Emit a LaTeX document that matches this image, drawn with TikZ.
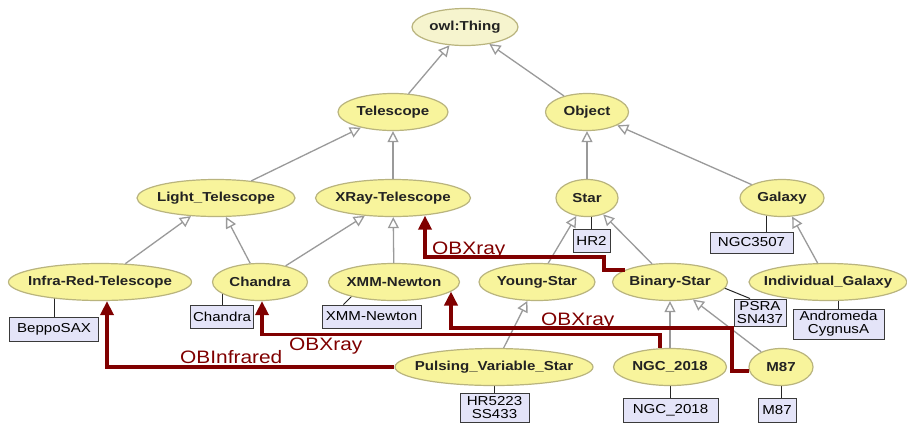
\documentclass[tikz,border=0pt]{standalone}
\usepackage{fontspec}
\usetikzlibrary{shapes.geometric, arrows.meta, calc, backgrounds}
\newfontfamily\clsfont[FakeStretch=1.16]{Liberation Sans}
\newfontfamily\boxfont[FakeStretch=1.16]{Liberation Sans}
\newfontfamily\relfont[FakeStretch=1.16]{Liberation Sans}
\definecolor{ellfill}{HTML}{F8F49C}
\definecolor{thingfill}{HTML}{F6F4CE}
\definecolor{ellborder}{HTML}{B9B47E}
\definecolor{clstext}{HTML}{222222}
\definecolor{boxfill}{HTML}{E4E4F8}
\definecolor{boxborder}{HTML}{3A3A3A}
\definecolor{subgray}{HTML}{9A9A9A}
\definecolor{relred}{HTML}{800000}
\tikzset{
  cls/.style={ellipse, draw=ellborder, fill=ellfill, line width=1.2pt, minimum height=37pt,
    inner xsep=-30pt, inner ysep=-4pt,
    font=\clsfont\bfseries\fontsize{13}{15}\selectfont, text=clstext},
  inst/.style={rectangle, draw=boxborder, fill=boxfill, line width=1pt, inner sep=0pt,
    font=\boxfont\fontsize{13}{13}\selectfont, align=center},
  sub/.style={draw=subgray, line width=1.3pt, -{Triangle[open, length=11pt, width=11pt, fill=white]}},
  rel/.style={draw=relred, line width=3.5pt, -{Triangle[length=14pt, width=13pt]}},
  rellabel/.style={text=relred, font=\relfont\fontsize{18}{20}\selectfont, inner sep=0pt, anchor=base west},
  link/.style={draw=black!85, line width=1pt}
}
\begin{document}
\begin{tikzpicture}[x=1pt, y=-1pt]
\useasboundingbox (0,0) rectangle (907,424);
% classes
\node[cls, minimum width=106pt, fill=thingfill] (thing) at (465,27) {owl:Thing};
\node[cls, minimum width=110pt] (tel) at (393,112) {Telescope};
\node[cls, minimum width=83pt] (obj) at (587,112) {Object};
\node[cls, minimum width=158pt] (light) at (216,198) {Light\_Telescope};
\node[cls, minimum width=155pt] (xray) at (393,198) {XRay-Telescope};
\node[cls, minimum width=62pt] (star) at (587,198) {Star};
\node[cls, minimum width=84pt] (galaxy) at (782,198) {Galaxy};
\node[cls, minimum width=183pt] (infra) at (100,282) {Infra-Red-Telescope};
\node[cls, minimum width=95pt] (chandra) at (260,282) {Chandra};
\node[cls, minimum width=131pt] (xmm) at (394,282) {XMM-Newton};
\node[cls, minimum width=116pt] (young) at (537,282) {Young-Star};
\node[cls, minimum width=115pt] (binary) at (670,282) {Binary-Star};
\node[cls, minimum width=158pt] (indgal) at (828,282) {Individual\_Galaxy};
\node[cls, minimum width=198pt] (pulsing) at (494,367) {Pulsing\_Variable\_Star};
\node[cls, minimum width=113pt] (ngc) at (670,367) {NGC\_2018};
\node[cls, minimum width=64pt] (meight) at (781,367) {M87};
% instances
\node[inst, minimum width=89pt, minimum height=24pt] (beppo) at (54,329) {BeppoSAX};
\node[inst, minimum width=63pt, minimum height=23pt] (chbox) at (222,317) {Chandra};
\node[inst, minimum width=99pt, minimum height=23pt] (xmmbox) at (371.5,316.5) {XMM-Newton};
\node[inst, minimum width=37pt, minimum height=23pt] (hr2) at (591.5,240.5) {HR2};
\node[inst, minimum width=83pt, minimum height=21pt] (ngcbig) at (751.5,242.5) {NGC3507};
\node[inst, minimum width=52pt, minimum height=27pt] (psra) at (760,312.5) {PSRA\\SN437};
\node[inst, minimum width=91pt, minimum height=30pt] (andro) at (838.5,324) {Andromeda\\CygnusA};
\node[inst, minimum width=69pt, minimum height=29pt] (hrss) at (494.5,407.5) {HR5223\\SS433};
\node[inst, minimum width=95pt, minimum height=24pt] (ngcbox) at (670.5,410) {NGC\_2018};
\node[inst, minimum width=38pt, minimum height=24pt] (m87box) at (777,410) {M87};
% background and instance links
\begin{pgfonlayer}{background}
\fill[white] (0,0) rectangle (907,424);
\draw[link] (beppo.north) -- (beppo.north |- infra.center);
\draw[link] (chbox.north) -- (chbox.north |- chandra.center);
\draw[link] ($(xmmbox.north)+(-28,0)$) -- ++(18,-18);
\draw[link] (hr2.north) -- (hr2.north |- star.center);
\draw[link] ($(ngcbig.north)+(15,0)$) -- ++(0,-30);
\draw[link] ($(psra.north)+(-10,0)$) -- ++(-40,-16.3);
\draw[link] (andro.north) -- (andro.north |- indgal.center);
\draw[link] (hrss.north) -- (hrss.north |- pulsing.center);
\draw[link] (ngcbox.north) -- (ngcbox.north |- ngc.center);
\draw[link] ($(m87box.north)+(4,0)$) -- ++(0,-30);
\end{pgfonlayer}
% subclass arrows
\draw[sub] (tel) -- (thing);
\draw[sub] (obj) -- (thing);
\draw[sub] (light) -- (tel);
\draw[sub] (xray) -- (tel);
\draw[sub] (star) -- (obj);
\draw[sub] (galaxy) -- (obj);
\draw[sub] (infra) -- (light);
\draw[sub] (chandra) -- (light);
\draw[sub] (chandra) -- (xray);
\draw[sub] (xmm) -- (xray);
\draw[sub] (young) -- (star);
\draw[sub] (binary) -- (star);
\draw[sub] (indgal) -- (galaxy);
\draw[sub] (pulsing) -- (young);
\draw[sub] (ngc) -- (binary);
\draw[sub] (meight) -- (binary);
% object property arrows
\draw[rel] (binary.165) -- ++(-21,0) -- ++(0,-13) -| ($(xray.south)+(32,-1.5)$);
\node[rellabel] (lab1) at (432,254) {OBXray};
\draw[rel] ($(ngc.north)+(-10,0)$) -- ++(0,-13.5) -| ($(chandra.south)+(2,0)$);
\node[rellabel] (lab2) at (289,350) {OBXray};
\draw[rel] (meight.187) -- ++(-17,0) -- ++(0,-43) -| ($(xmm.center)+(57,9.5)$);
\node[rellabel] (lab3) at (541,325) {OBXray};
\draw[rel] (pulsing.west) -| ($(infra.south)+(7,0)$);
\node[rellabel] (lab4) at (180,363) {OBInfrared};
\end{tikzpicture}
\end{document}
